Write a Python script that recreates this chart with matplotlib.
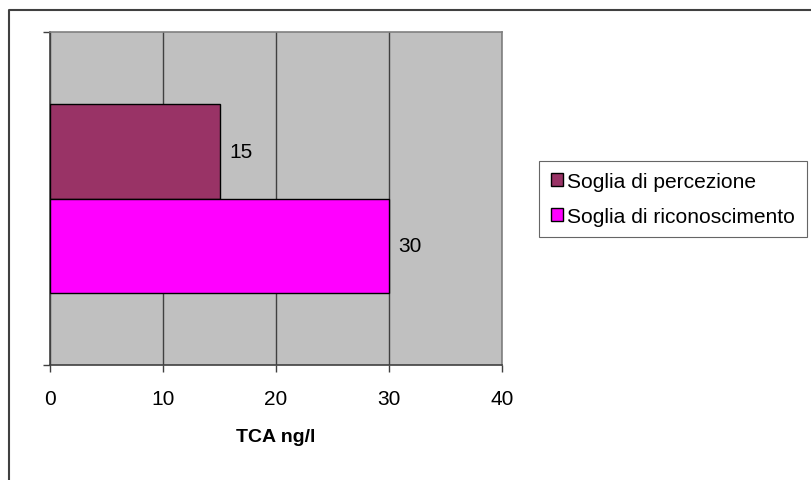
import matplotlib
matplotlib.use('Agg')
import matplotlib.pyplot as plt
from matplotlib.lines import Line2D
from matplotlib.patches import Patch

plt.rcParams['font.family'] = ['Liberation Sans', 'DejaVu Sans']

series = ['Soglia di percezione', 'Soglia di riconoscimento']
values = [15, 30]
colors = ['#993366', '#FF00FF']
xticks = [0, 10, 20, 30, 40]

W, H = 811, 481
fig = plt.figure(figsize=(W / 100, H / 100), dpi=100)
fig.patch.set_facecolor('white')

# area del grafico (in pixel)
left, right, top, bottom = 50, 502, 33, 366
ax = fig.add_axes([left / W, (H - bottom) / H, (right - left) / W, (bottom - top) / H])
ax.set_facecolor('#C0C0C0')

h = 0.283
pos = [0.5 + h / 2, 0.5 - h / 2]
for p, v, c in zip(pos, values, colors):
    ax.barh(p, v, height=h, color=c, edgecolor='black', linewidth=1, zorder=3)
    ax.text(v + 0.85, p, str(v), va='center', ha='left', fontsize=15, zorder=4)

ax.set_xlim(0, 40)
ax.set_ylim(0, 1)
ax.set_xticks(xticks)
ax.set_yticks([0, 1])
ax.set_yticklabels([])
ax.tick_params(axis='x', direction='out', length=5, width=1, color='#404040',
               labelsize=15, pad=12)
ax.tick_params(axis='y', direction='out', length=5, width=1, color='#404040')
ax.grid(axis='x', color='#404040', linewidth=1, zorder=1)
ax.grid(axis='y', visible=False)
for s in ['left', 'bottom']:
    ax.spines[s].set_color('#404040')
    ax.spines[s].set_linewidth(1.2)
for s in ['top', 'right']:
    ax.spines[s].set_color('#808080')
    ax.spines[s].set_linewidth(1.2)

ax.set_xlabel('TCA ng/l', fontsize=14, fontweight='bold', labelpad=15)

handles = [Patch(facecolor=c, edgecolor='black', linewidth=1) for c in colors]
leg = fig.legend(handles, series, loc='center left',
                 bbox_to_anchor=(539 / W, 1 - 200 / H), fontsize=15.1,
                 frameon=True, fancybox=False, edgecolor='#404040',
                 handlelength=0.6, handleheight=0.6, handletextpad=0.2,
                 borderpad=0.55, labelspacing=0.75, borderaxespad=0)
leg.get_frame().set_linewidth(0.8)

# cornice esterna (solo lato sinistro e superiore visibili)
fig.add_artist(Line2D([9 / W, 9 / W, 1], [0, 1 - 11 / H, 1 - 11 / H],
                      transform=fig.transFigure, color='#404040', linewidth=1.5))

fig.savefig('out.png', dpi=100)
